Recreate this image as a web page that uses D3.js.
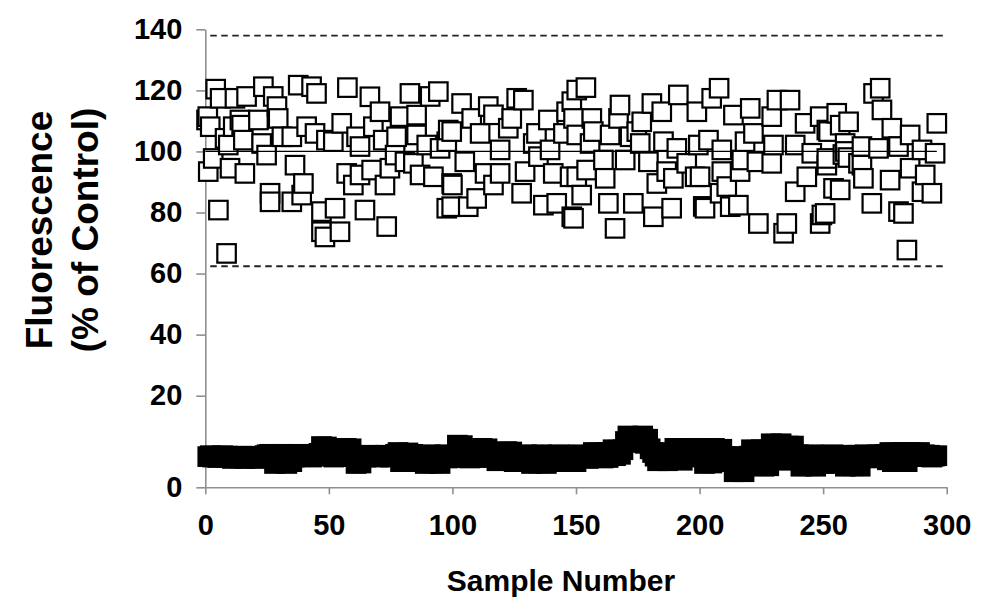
<!DOCTYPE html>
<html><head><meta charset="utf-8">
<script src="https://cdn.jsdelivr.net/npm/d3@7"></script>
<style>body{margin:0;background:#fff}svg{display:block}</style>
</head><body><svg id="c" width="1000" height="613"></svg>
<script>
const yTicks=[0,20,40,60,80,100,120,140];
const xTicks=[0,50,100,150,200,250,300];
const upperLimit=137.9, lowerLimit=62.4, meanLevel=100;
const openSamples=[4.2,6,1,2,12,23.5,27.5,29,21.5,29.5,35,37.6,43,45,41,44.4,49,3.2,1.2,10,16,24.8,36.3,39.7,26.2,26.2,35,39,5.3,8.6,47,47,48.4,14,8,15.4,14.7,9.3,22.8,31,16.7,11.3,0.5,
57.5,66.6,82.8,94.3,91,70.7,78.8,85.5,55.2,61.2,68,51.8,62.6,77.4,85.5,98.3,97.7,89.6,57.2,62.6,67.3,74.7,59.9,72.7,84.2,92.3,100,52.5,64.6,54.5,73.4,97.7,95,76.8,80.8,86.9,72,
103.7,114.5,126,128.7,116.6,124,138.8,148.3,150.3,146.2,99.7,111.2,122.6,134,144.9,119.3,132.7,139.5,105,113.2,119.3,129.4,140.8,147.6,99.7,116.6,128,109.8,99.7,106.4,136.8,142.2,148.3,134.8,107.8,
154,167.8,180.7,191.4,184.7,198.9,149,156.4,176.6,167.2,157,163.8,150.3,171.9,176,185.4,190.8,199.5,161.1,169.9,179.3,154.3,161.8,150.3,186.7,189.4,194.8,198.2,182.7,152.3,149,163.1,173.2,181.3,188.7,201.5,165.8,155.7,174.6,
207.9,204.9,220.5,213.7,231.3,236.6,229.2,242.7,248.8,251.5,203.6,209,218.4,221.8,229.9,238.7,245.4,217.1,229.2,223.2,209,216.4,200.2,243.4,211,238.7,202.2,212.4,215.7,223.8,234,235.3,248.8,249.5,208.3,251.5,
273.1,270.4,273.8,255.5,260.3,277.8,285.2,296,252.2,258.9,265.7,272.4,280.5,295.3,290,251.5,265.7,285.2,266.3,277.1,291.3,254.2,256.9,294,290,269.7,282.5,280.5,250.8,283.9,264.3,256.9,258,259,260];
const openValues=[120.4,117.4,111.4,108.1,117.4,121.2,118,114.7,110.3,110.8,104.8,121.7,121.2,119,108.1,105.9,103.7,97.7,93.4,94.5,92.8,98.8,95.5,89.5,86.3,83.5,83.5,85.7,80.8,66.6,80.3,73.7,72,110.3,104.3,103.7,108.6,102.1,102.6,104.8,118,108.1,110.3,
120.9,117.9,119,119.6,118,113,111.4,111.9,109.2,104.8,108.1,103.2,101.6,104.8,105.4,107,103.2,102.1,92.8,92.3,93.9,94.5,89,89,96.1,91.7,89,81.4,80.8,73.7,75.4,81.4,101,98.8,96.6,92.3,103.7,
115.7,114.7,117.4,116.8,112,110.8,110.3,116.3,120.1,113,106.5,105.9,107.6,105.9,105.9,100.5,102.6,100.5,96.6,92.8,92.8,93.4,92.8,91.7,89.5,89,86.3,84.6,81.9,81.9,82.4,83,78.6,98.3,110.8,
120.9,115.2,115.7,118.5,113,113,110.8,110.8,109.7,110.8,106.5,105.4,105.4,104.8,102.6,103.2,101,102.1,97.2,97.2,96.6,93.9,91.2,91.7,93.4,91.2,96.1,91.7,89.5,85.7,78.1,83,83,78.6,81.4,82,74.8,102.6,106.5,
120.7,117.4,114.1,111.9,116.8,116.8,111.4,109.2,111.4,107,103.7,100.5,103.2,105.9,102.1,102.1,99.4,97.2,96.1,96.6,93.4,93.4,91.7,91.7,88.5,86.8,81.4,81.9,82.4,76.4,73.2,76.4,76.4,79.2,86.3,95.5,
120.7,119,113.6,112.5,109.7,107.6,105.4,109.2,106.5,102.6,101.6,101,101.6,99.4,100.5,97.7,95.5,94.5,91.2,90.6,92.3,87.9,87.4,86.3,86.8,83,79.7,80.3,79.7,67.7,96.1,108.6,99,100,98];
const controlValues=[6.7,6.9,6.6,6.8,6.5,6.7,6.9,6.6,6.8,6.7,
6.3,6.5,6.6,6.4,6.8,6.3,6.6,6.5,6.7,6.3,
6.5,6.4,6.7,6.9,7.1,7.2,6.6,5.2,6.8,5.4,
7.2,6.5,5.2,7.0,5.6,6.6,7.2,6.8,6.7,7.0,
6.9,7.1,6.6,7.2,6.8,7.4,8.9,7.0,8.8,6.9,
7.0,6.6,7.2,6.8,7.1,6.7,8.5,7.0,8.4,6.8,
5.2,6.9,5.3,6.7,6.6,7.0,6.8,6.7,6.9,6.6,
6.8,6.7,7.0,6.9,6.6,6.8,7.2,7.6,5.6,7.4,
5.7,7.5,6.8,7.2,5.6,6.9,7.0,6.7,5.2,6.9,
7.1,5.3,6.8,7.0,5.2,6.6,7.1,6.4,6.7,6.5,
6.8,9.2,7.0,9.1,6.6,7.3,6.4,6.9,6.6,7.0,
6.5,8.5,7.1,8.4,6.6,7.0,6.8,5.8,7.1,5.9,
6.7,7.8,6.4,7.7,5.6,6.9,7.0,5.7,6.8,7.1,
6.6,5.2,7.0,6.8,5.3,7.1,6.7,5.2,6.9,7.0,
6.6,6.8,7.1,5.6,6.7,7.0,5.7,6.9,6.6,5.6,
7.1,6.7,6.4,6.9,6.3,7.0,7.6,6.6,7.5,6.8,
6.4,7.6,6.5,7.0,8.2,6.9,8.1,7.2,8.2,10.0,
11.2,10.4,11.1,9.8,11.0,10.2,11.2,9.6,10.5,8.4,
7.6,6.8,5.8,7.4,6.0,7.6,5.8,7.0,6.7,8.5,
7.4,8.4,5.9,8.5,7.0,6.6,8.3,6.7,7.0,6.8,
8.5,5.2,8.4,7.2,5.3,8.5,6.9,7.5,8.3,6.6,
6.7,5.6,6.4,3.4,6.6,3.5,6.7,3.4,6.5,6.8,
8.2,5.3,8.1,6.5,8.2,4.6,6.8,4.7,9.5,7.0,
9.4,6.6,9.5,7.2,5.9,9.0,7.4,9.0,6.8,7.1,
4.6,7.0,6.3,4.7,6.8,7.1,4.6,6.6,6.9,5.2,
7.0,6.5,5.2,7.1,6.7,6.9,5.3,6.8,4.6,7.0,
6.7,4.7,6.9,7.0,4.6,6.8,7.1,6.4,6.9,7.0,
6.6,7.1,6.8,6.5,7.2,6.0,7.6,5.6,7.5,6.8,
5.7,7.6,6.9,5.6,7.6,6.7,7.5,6.8,7.6,6.9,
7.1,6.8,7.0,6.6,6.8,6.9];

const svg=d3.select('#c');
const font='Liberation Sans, Arial, sans-serif';
const x=d3.scaleLinear().domain([0,300]).range([205.3,946.7]);
const y=d3.scaleLinear().domain([0,20,140]).range([487.3,395.7,29.3]);
const axisColor='#8f8f8f';

// axes
const gx=svg.append('g').attr('transform',`translate(0,${y(0)})`)
  .call(d3.axisBottom(x).tickValues(xTicks).tickSize(7).tickPadding(20).tickSizeOuter(0));
const gy=svg.append('g').attr('transform',`translate(${x(0)},0)`)
  .call(d3.axisLeft(y).tickValues(yTicks).tickSize(9).tickPadding(14).tickSizeOuter(0));
[gx,gy].forEach(g=>{
  g.select('.domain').attr('stroke',axisColor).attr('stroke-width',1.6);
  g.selectAll('.tick line').attr('stroke',axisColor).attr('stroke-width',1.6);
  g.selectAll('.tick text').attr('fill','#000').style('font-family',font).style('font-size','29px').style('font-weight','bold');
});

// reference lines
[upperLimit,lowerLimit].forEach(v=>{
  svg.append('line').attr('x1',x(2)).attr('x2',x(300)).attr('y1',y(v)).attr('y2',y(v))
    .attr('stroke','#222').attr('stroke-width',1.8).attr('stroke-dasharray','6.5,4.5');
});

const s=18.5;
// control (black) squares
svg.append('g').selectAll('rect').data(controlValues).join('rect')
  .attr('x',(d,i)=>x(i+1)-s/2).attr('y',d=>y(d)-s/2).attr('width',s).attr('height',s)
  .attr('fill','#000').attr('stroke','#000').attr('stroke-width',2.2);

// open squares
const pts=openSamples.map((d,i)=>({s:d,v:openValues[i]})).sort((a,b)=>a.s-b.s);
svg.append('g').selectAll('rect').data(pts).join('rect')
  .attr('x',d=>x(d.s)-s/2).attr('y',d=>y(d.v)-s/2).attr('width',s).attr('height',s)
  .attr('fill','#fff').attr('stroke','#000').attr('stroke-width',2.2);

// mean line
svg.append('line').attr('x1',x(0)).attr('x2',x(296)).attr('y1',y(meanLevel)).attr('y2',y(meanLevel))
  .attr('stroke','#000').attr('stroke-width',1.2);

// titles
svg.append('text').attr('x',561).attr('y',591).attr('text-anchor','middle')
  .style('font-family',font).style('font-size','30px').style('font-weight','bold').text('Sample Number');
const yt=svg.append('text').attr('transform','translate(0,230) rotate(-90)').attr('text-anchor','middle')
  .style('font-family',font).style('font-size','37px').style('font-weight','bold');
yt.append('tspan').attr('x',0).attr('y',52).text('Fluorescence');
yt.append('tspan').attr('x',0).attr('y',98).text('(% of Control)');
</script></body></html>
